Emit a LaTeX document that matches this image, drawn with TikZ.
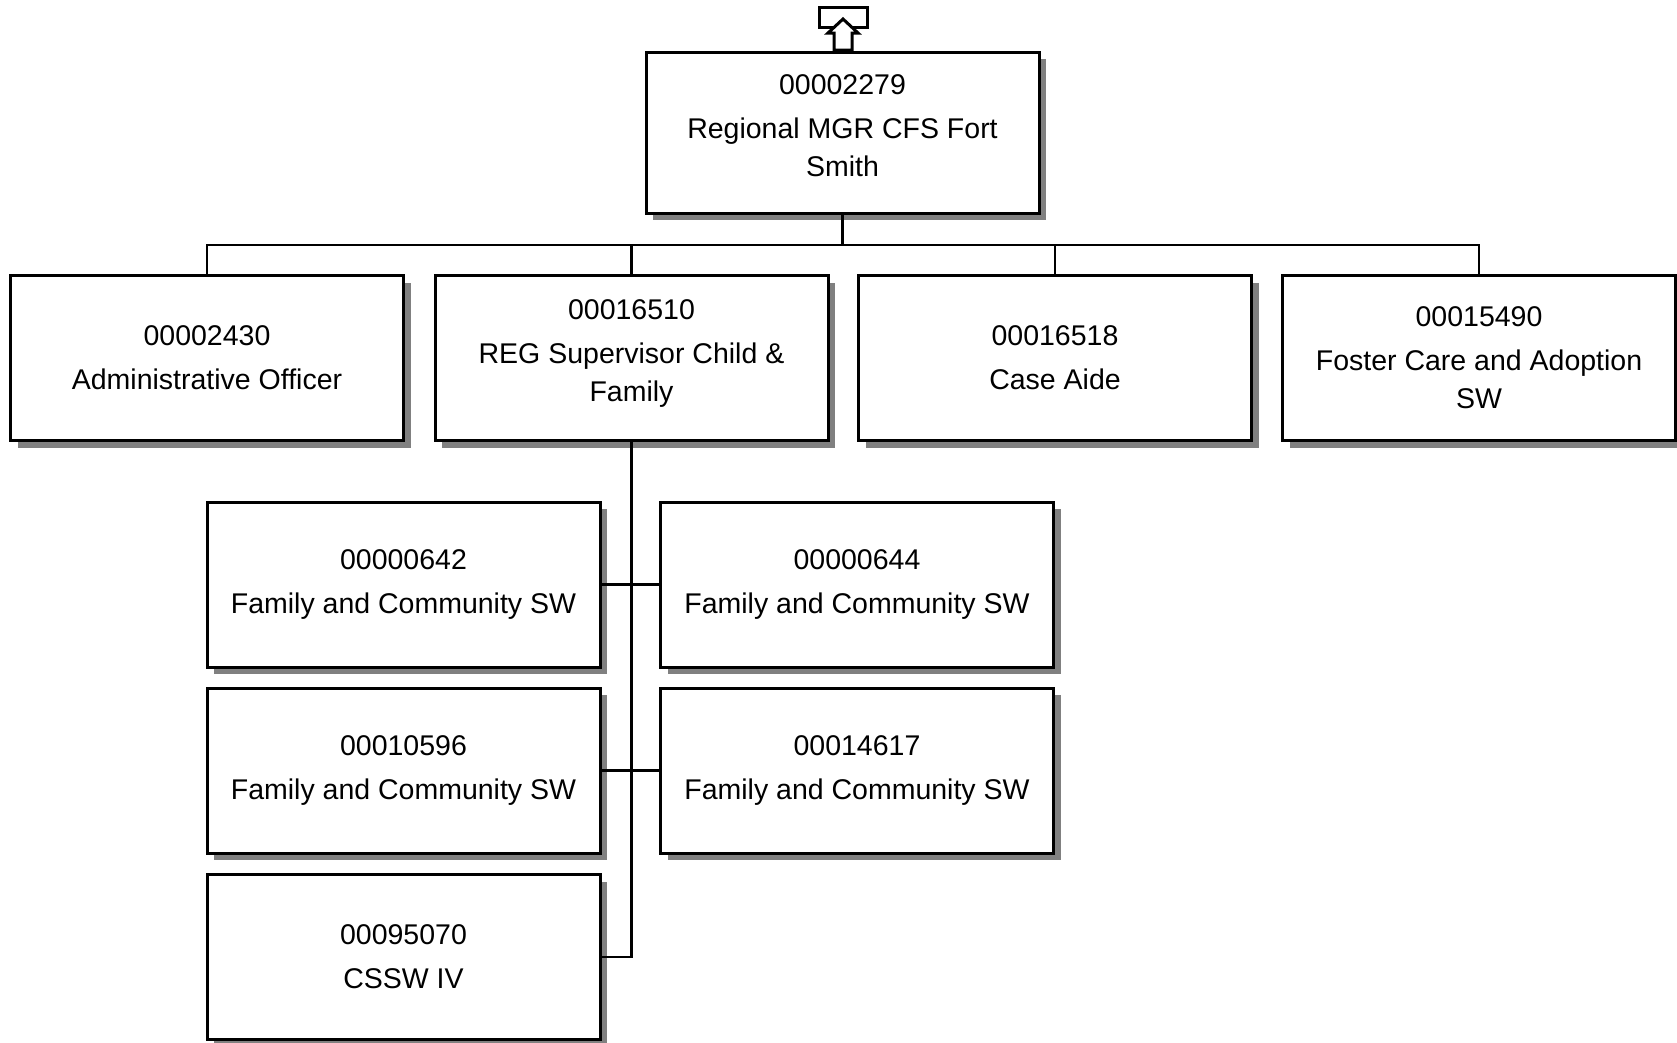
\documentclass[tikz,border=0pt]{standalone}
\usepackage{fontspec}
\setmainfont{Liberation Sans}
\usetikzlibrary{shadows}
\tikzset{
  orgbox/.style={draw=black, line width=3pt, fill=white, rectangle, inner sep=0pt,
    minimum width=393pt, minimum height=165pt, align=center,
    font=\fontsize{28.5}{38}\selectfont,
    drop shadow={shadow xshift=7pt, shadow yshift=-7pt, fill=gray, opacity=1}},
  link/.style={draw=black, line width=2.2pt},
  icon/.style={draw=black, line width=3pt, fill=white, line join=miter}
}
\begin{document}
\begin{tikzpicture}[x=1pt, y=-1pt]
\useasboundingbox (0,0) rectangle (1677,1042);
% nodes
\node[orgbox, minimum height=161pt] (top) at (842.5,132.5) {00002279\\[6pt]Regional MGR CFS Fort\\Smith\\[-24pt]\mbox{}};
\node[orgbox] (a) at (207,358) {00002430\\[6pt]Administrative Officer};
\node[orgbox] (r) at (631.5,358) {00016510\\[6pt]REG Supervisor Child \&\\Family\\[-24pt]\mbox{}};
\node[orgbox] (c) at (1055,358) {00016518\\[6pt]Case Aide};
\node[orgbox] (f) at (1479,358) {00015490\\[6pt]Foster Care and Adoption\\SW};
\node[orgbox] (l1) at (403.5,584.5) {00000642\\[6pt]Family and Community SW};
\node[orgbox] (r1) at (857,584.5) {00000644\\[6pt]Family and Community SW};
\node[orgbox] (l2) at (403.5,770.5) {00010596\\[6pt]Family and Community SW};
\node[orgbox] (r2) at (857,770.5) {00014617\\[6pt]Family and Community SW};
\node[orgbox] (l3) at (403.5,957) {00095070\\[6pt]CSSW IV};
% connectors
\coordinate (bus) at (842.5,245);
\draw[link] (top.south) -- (bus);
\draw[link] (a.north) |- (bus) -| (f.north);
\draw[link] (r.north) -- (r.north |- bus);
\draw[link] (c.north) -- (c.north |- bus);
\draw[link] (r.south) -- (r.south |- l3.east) -- (l3.east);
\draw[link] (l1.east) -- (r1.west);
\draw[link] (l2.east) -- (r2.west);
% up-arrow icon above the top box
\draw[icon] (819,7) rectangle (867,27);
\draw[icon] (834,50) -- (834,33) -- (828,33) -- (843,19) -- (858,33) -- (852,33) -- (852,50) -- cycle;
\end{tikzpicture}
\end{document}
